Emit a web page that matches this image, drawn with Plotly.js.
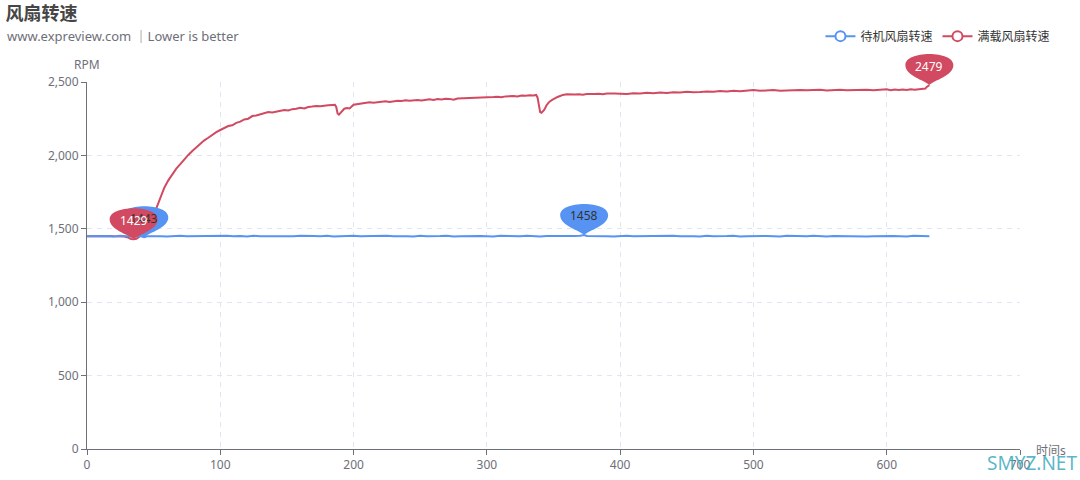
<!DOCTYPE html>
<html>
<head>
<meta charset="utf-8">
<script src="https://cdn.plot.ly/plotly-3.0.1.min.js"></script>
<style>
html,body{margin:0;padding:0;background:#fff;}
#chart{width:1080px;height:480px;}
</style>
</head>
<body>
<div id="chart"></div>
<script>
// ---- data ----
const seriesNames = ["待机风扇转速", "满载风扇转速"];

const idleTime = [0,5,10,15,20,25,30,35,40,43,45,50,55,60,65,70,75,80,85,90,95,100,105,110,115,120,125,130,135,140,145,150,155,160,165,170,175,180,185,190,195,200,205,210,215,220,225,230,235,240,245,250,255,260,265,270,275,280,285,290,295,300,305,310,315,320,325,330,335,340,345,350,355,360,365,370,373,375,380,385,390,395,400,405,410,415,420,425,430,435,440,445,450,455,460,465,470,475,480,485,490,495,500,505,510,515,520,525,530,535,540,545,550,555,560,565,570,575,580,585,590,595,600,605,610,615,620,625,630,632];
const idleRpm = [1450,1452,1449,1451,1448,1452,1450,1447,1451,1443,1449,1452,1450,1448,1451,1453,1449,1450,1452,1448,1451,1450,1453,1449,1451,1447,1452,1450,1449,1453,1451,1448,1450,1452,1449,1451,1450,1453,1448,1451,1450,1452,1449,1451,1448,1450,1453,1449,1451,1450,1448,1452,1450,1449,1451,1453,1448,1450,1452,1449,1451,1450,1448,1452,1450,1451,1449,1453,1450,1448,1451,1450,1452,1449,1451,1453,1458,1451,1449,1452,1450,1448,1451,1453,1449,1450,1452,1448,1451,1450,1453,1449,1451,1450,1448,1452,1450,1449,1451,1453,1448,1450,1452,1449,1451,1450,1448,1452,1450,1451,1449,1453,1450,1448,1451,1450,1452,1449,1451,1448,1450,1452,1449,1451,1450,1448,1452,1449,1450,1449];

const loadTime = [0,4,8,12,16,20,24,28,31,33,35,37,39,42,45,48,50,52,55,58,61,64,67,70,73,76,79,82,85,88,91,94,97,100,103,106,109,112,115,118,121,124,127,130,133,136,139,142,145,148,151,154,157,160,163,166,169,172,175,178,181,184,186,187,188,189,191,193,195,197,200,203,206,209,212,215,218,221,224,227,230,233,236,239,242,245,248,251,254,257,260,263,266,269,272,275,278,281,284,287,290,293,296,299,302,305,308,311,314,317,320,323,326,329,332,335,337,338,339,340,341,343,345,347,349,351,353,355,357,360,363,366,369,372,375,378,381,384,387,390,393,396,400,405,410,415,420,425,430,435,440,445,450,455,460,465,470,475,480,485,490,495,500,505,510,515,520,525,530,535,540,545,550,555,560,565,570,575,580,585,590,595,600,603,606,609,612,615,618,621,624,627,629,630,631,632];
const loadRpm = [1450,1451,1449,1450,1451,1449,1450,1448,1440,1431,1429,1432,1445,1470,1510,1560,1600,1640,1715,1780,1830,1870,1910,1940,1975,2003,2030,2055,2080,2103,2120,2140,2158,2173,2185,2200,2205,2222,2230,2245,2250,2268,2272,2280,2285,2295,2293,2300,2305,2309,2306,2315,2318,2325,2320,2330,2333,2337,2335,2340,2341,2343,2344,2330,2285,2278,2295,2318,2322,2320,2345,2350,2352,2355,2362,2358,2362,2365,2368,2364,2370,2373,2371,2375,2372,2377,2378,2374,2380,2382,2378,2384,2381,2386,2385,2379,2388,2389,2386,2392,2388,2394,2391,2396,2393,2398,2400,2396,2402,2405,2405,2401,2408,2406,2410,2408,2412,2395,2340,2295,2290,2310,2345,2366,2378,2390,2398,2405,2412,2416,2413,2415,2417,2414,2418,2416,2418,2420,2417,2421,2419,2422,2420,2418,2424,2421,2426,2423,2428,2425,2430,2428,2434,2430,2432,2436,2433,2438,2435,2440,2437,2441,2445,2440,2443,2446,2441,2444,2442,2446,2443,2445,2447,2442,2445,2448,2444,2446,2443,2447,2444,2449,2450,2444,2448,2445,2449,2446,2450,2447,2449,2450,2455,2466,2475,2479];

const xTicks = [0,100,200,300,400,500,600,700];
const yTicks = [0,500,1000,1500,2000,2500];
const yRange = [0, 2500];

// ---- style ----
const BLUE = "#5793f3";
const RED = "#d14a61";
const FONT = "Noto Sans, Noto Sans CJK SC, sans-serif";
const AXIS_TXT = "#6e7079";

function extremes(t, v) {
  let iMax = 0, iMin = 0;
  for (let i = 1; i < v.length; i++) {
    if (v[i] > v[iMax]) iMax = i;
    if (v[i] < v[iMin]) iMin = i;
  }
  return [{x: t[iMax], y: v[iMax]}, {x: t[iMin], y: v[iMin]}];
}

const pinPath = "M0,0 C-5,5 -24,9 -24,20 C-24,27 -13,31 0,31 C13,31 24,27 24,20 C24,9 5,5 0,0 Z";

const shapes = [];
const annotations = [];
function addPins(t, v, color, txtColor) {
  extremes(t, v).forEach(p => {
    shapes.push({
      type: "path", xref: "x", yref: "paper",
      xsizemode: "pixel", ysizemode: "pixel",
      xanchor: p.x, yanchor: (p.y - yRange[0]) / (yRange[1] - yRange[0]),
      path: pinPath, fillcolor: color, line: {width: 0}, layer: "above"
    });
    annotations.push({
      x: p.x, y: p.y, xref: "x", yref: "y", yshift: 19,
      text: String(p.y), showarrow: false,
      font: {family: FONT, size: 12, color: txtColor}
    });
  });
}
addPins(idleTime, idleRpm, BLUE, "#333");
addPins(loadTime, loadRpm, RED, "#fff");

annotations.push(
  {xref: "paper", yref: "paper", x: -0.0879, y: 1.125, xanchor: "left", yanchor: "middle",
   text: "www.expreview.com ｜Lower is better", showarrow: false,
   font: {family: FONT, size: 13, color: "#6e7079"}},
  {xref: "paper", yref: "paper", x: 0, y: 1.049, xanchor: "center", yanchor: "middle",
   text: "RPM", showarrow: false, font: {family: FONT, size: 12, color: AXIS_TXT}},
  {xref: "paper", yref: "paper", x: 1.015, y: -0.003, xanchor: "left", yanchor: "middle",
   text: "时间s", showarrow: false, font: {family: FONT, size: 12, color: AXIS_TXT}},
  {xref: "paper", yref: "paper", x: 0.962, y: -0.037, xanchor: "left", yanchor: "middle",
   text: "SMYZ.NET", showarrow: false, font: {family: FONT, size: 19, color: "rgba(60,170,190,0.85)"}}
);

const traces = [
  {x: loadTime, y: loadRpm, name: seriesNames[1], type: "scatter", mode: "lines",
   line: {color: RED, width: 2}, showlegend: false, hoverinfo: "x+y"},
  {x: idleTime, y: idleRpm, name: seriesNames[0], type: "scatter", mode: "lines",
   line: {color: BLUE, width: 2}, showlegend: false, hoverinfo: "x+y"},
  {x: [null], y: [null], name: seriesNames[0], type: "scatter", mode: "lines+markers",
   line: {color: BLUE, width: 2}, marker: {symbol: "circle", size: 10, color: "#fff", line: {color: BLUE, width: 2}}},
  {x: [null], y: [null], name: seriesNames[1], type: "scatter", mode: "lines+markers",
   line: {color: RED, width: 2}, marker: {symbol: "circle", size: 10, color: "#fff", line: {color: RED, width: 2}}}
];

const layout = {
  width: 1080, height: 480,
  margin: {l: 87, r: 60, t: 82, b: 31},
  paper_bgcolor: "#fff", plot_bgcolor: "#fff",
  font: {family: FONT, size: 12, color: AXIS_TXT},
  title: {text: "<b>风扇转速</b>", xref: "container", yref: "container", x: 0.005, xanchor: "left",
          y: 0.972, yanchor: "middle", font: {family: FONT, size: 18, color: "#464646"}},
  showlegend: true,
  legend: {orientation: "h", xref: "paper", yref: "paper", x: 1.038, xanchor: "right", y: 1.125, yanchor: "middle",
           font: {family: FONT, size: 12, color: "#333"}, itemwidth: 30, bgcolor: "rgba(0,0,0,0)", traceorder: "normal"},
  xaxis: {range: [0, 700], tickvals: xTicks, ticktext: xTicks.map(String), showgrid: true,
          gridcolor: "#e0e6f1", griddash: "5px,5px", gridwidth: 1, zeroline: false,
          showline: true, linecolor: "#6e7079", linewidth: 1, ticks: "outside", ticklen: 5, tickcolor: "#6e7079",
          tickfont: {family: FONT, size: 12, color: AXIS_TXT}, fixedrange: true},
  yaxis: {range: yRange, tickvals: yTicks, tickformat: ",", showgrid: true,
          gridcolor: "#e0e6f1", griddash: "5px,5px", gridwidth: 1, zeroline: false,
          showline: true, linecolor: "#6e7079", linewidth: 1, ticks: "outside", ticklen: 5, tickcolor: "#6e7079",
          tickfont: {family: FONT, size: 12, color: AXIS_TXT}, fixedrange: true},
  shapes: shapes,
  annotations: annotations
};

Plotly.newPlot("chart", traces, layout, {displayModeBar: false, staticPlot: true});
</script>
</body>
</html>
